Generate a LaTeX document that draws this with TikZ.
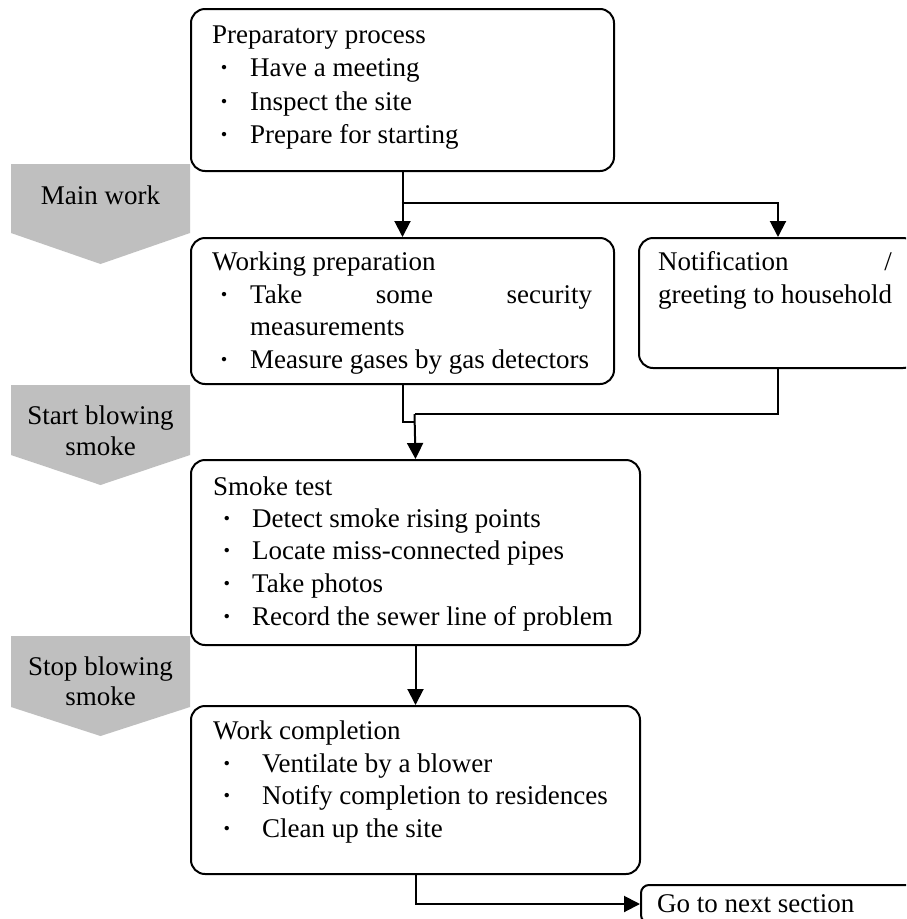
\documentclass[tikz,border=0pt]{standalone}
\usepackage{fontspec}
\setmainfont{Liberation Serif}
\usetikzlibrary{arrows.meta}
\tikzset{
  box/.style={draw, line width=2pt, rounded corners=14pt, anchor=north west, inner sep=0pt},
  smallbox/.style={draw, line width=2pt, rounded corners=8pt, anchor=north west, inner sep=0pt},
  txt/.style={anchor=base west, inner sep=0pt, font=\fontsize{27pt}{32pt}\selectfont},
  ctxt/.style={anchor=base, inner sep=0pt, font=\fontsize{27pt}{32pt}\selectfont},
  bul/.style={anchor=base, inner sep=0pt, font=\fontsize{27pt}{32pt}\selectfont\bfseries},
  conn/.style={line width=2pt},
  arr/.style={line width=2pt, -{Triangle[width=16pt,length=16pt]}},
  phase/.style={fill=black!25, draw=none}
}
\begin{document}
\begin{tikzpicture}[x=1pt, y=-1pt]
\path[use as bounding box, clip] (0,0) rectangle (906,919);
\fill[white] (0,0) rectangle (906,919);

% phase arrows
\fill[phase] (11,164) -- (190,164) -- (190,233) -- (100.5,264) -- (11,233) -- cycle;
\fill[phase] (11,385) -- (190,385) -- (190,455) -- (100.5,485) -- (11,455) -- cycle;
\fill[phase] (11,636) -- (190,636) -- (190,707) -- (100.5,736) -- (11,707) -- cycle;
\node[ctxt] (ph1) at (100.5,204) {Main work};
\node[ctxt] (ph2a) at (100.5,424) {Start blowing};
\node[ctxt] (ph2b) at (100.5,455) {smoke};
\node[ctxt] (ph3a) at (100.5,675) {Stop blowing};
\node[ctxt] (ph3b) at (100.5,705) {smoke};

% boxes
\node[box, minimum width=423pt, minimum height=162pt] (prep) at (190,8) {};
\node[box, minimum width=423pt, minimum height=146pt] (wp) at (190,237) {};
\node[box, minimum width=278pt, minimum height=130pt] (notif) at (638,237) {};
\node[box, minimum width=449pt, minimum height=185pt] (smoke) at (190,459) {};
\node[box, minimum width=449pt, minimum height=168pt] (wc) at (190,705) {};
\node[smallbox, minimum width=320pt, minimum height=38pt] (go) at (640,884) {};

% preparatory
\node[txt] (p0) at (212,43) {Preparatory process};
\node[bul] (pb1) at (224,76) {·};
\node[bul] (pb2) at (224,110) {·};
\node[bul] (pb3) at (224,143) {·};
\node[txt] (p1) at (250,76) {Have a meeting};
\node[txt] (p2) at (250,110) {Inspect the site};
\node[txt] (p3) at (250,143) {Prepare for starting};

% working preparation
\node[txt] (w0) at (212,270) {Working preparation};
\node[bul] (wb1) at (224,303) {·};
\node[bul] (wb2) at (224,368) {·};
\node[txt] (w1) at (250,303) {\makebox[342pt][s]{Take some security}};
\node[txt] (w1b) at (250,335) {measurements};
\node[txt] (w2) at (250,368) {Measure gases by gas detectors};

% notification
\node[txt] (n0) at (658,270) {Notification};
\node[txt, anchor=base east] (n0s) at (892,270) {/};
\node[txt] (n1) at (658,303) {greeting to household};

% smoke test
\node[txt] (s0) at (213,495) {Smoke test};
\node[bul] (sb1) at (227,527) {·};
\node[bul] (sb2) at (227,559) {·};
\node[bul] (sb3) at (227,592) {·};
\node[bul] (sb4) at (227,625) {·};
\node[txt] (s1) at (252,527) {Detect smoke rising points};
\node[txt] (s2) at (252,559) {Locate miss-connected pipes};
\node[txt] (s3) at (252,592) {Take photos};
\node[txt] (s4) at (252,625) {Record the sewer line of problem};

% work completion
\node[txt] (c0) at (213,739) {Work completion};
\node[bul] (cb1) at (227,772) {·};
\node[bul] (cb2) at (227,804) {·};
\node[bul] (cb3) at (227,837) {·};
\node[txt] (c1) at (262,772) {Ventilate by a blower};
\node[txt] (c2) at (262,804) {Notify completion to residences};
\node[txt] (c3) at (262,837) {Clean up the site};

% go
\node[txt] (g0) at (657,912) {Go to next section};

% connectors
\coordinate (j1) at (401.5,203);
\coordinate (m1) at (414.5,422);
\coordinate (m2) at (414.5,414);
\draw[arr] (prep.south) -- (wp.north);
\draw[arr] (j1) -| (notif.north);
\draw[conn] (wp.south) |- (m1);
\draw[conn] (notif.south) |- (m2);
\draw[arr] (m2) -- (smoke.north);
\draw[arr] (smoke.south) -- (wc.north);
\draw[arr] (wc.south) |- (go.west);
\end{tikzpicture}
\end{document}
